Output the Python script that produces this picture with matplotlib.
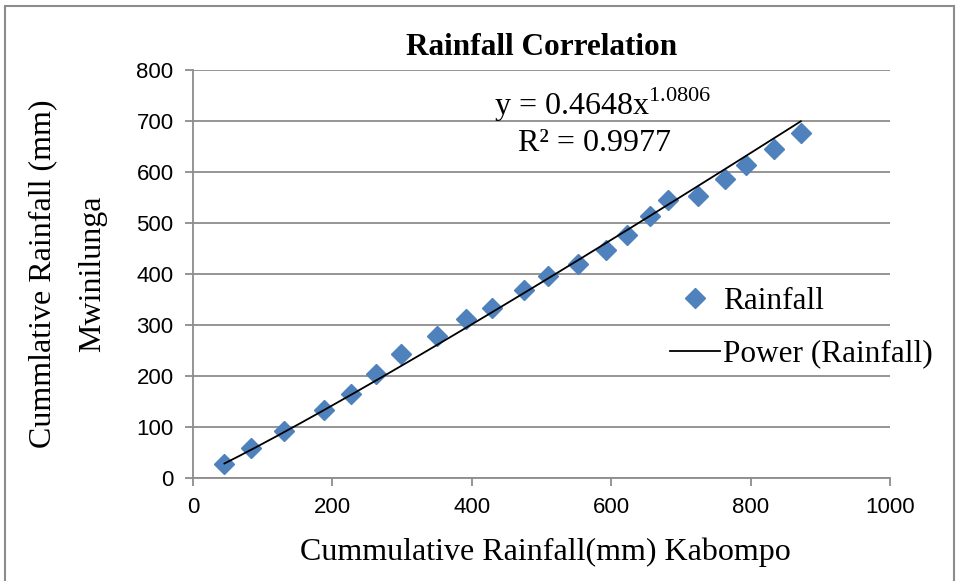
import numpy as np
import matplotlib.pyplot as plt
from matplotlib.patches import Rectangle

# Cumulative rainfall (mm)
kabompo = [45, 83, 130, 188, 226, 263, 298, 350, 391, 429, 475, 509,
           552, 593, 622, 655, 682, 724, 763, 794, 834, 872]
mwinilunga = [28, 59, 92, 133, 165, 204, 243, 279, 312, 333, 369, 396,
              419, 447, 476, 514, 546, 553, 586, 614, 645, 676]

coef = 0.4648
power = 1.0806

plt.rcParams['mathtext.fontset'] = 'custom'
plt.rcParams['mathtext.rm'] = 'Liberation Serif'
serif = 'Liberation Serif'
tickfont = ['Liberation Sans Narrow', 'Liberation Sans']

fig = plt.figure(figsize=(9.59, 5.81), dpi=100)
ax = fig.add_axes([0.2013, 0.1773, 0.7268, 0.7022])

xs = np.linspace(min(kabompo), max(kabompo), 200)
ax.plot(kabompo, mwinilunga, 'D', color='#4F81BD', markersize=10,
        label='Rainfall', zorder=3)
ax.plot(xs, coef * xs ** power, color='black', linewidth=1.3,
        label='Power (Rainfall)', zorder=4)

ax.set_xlim(0, 1000)
ax.set_ylim(0, 800)
ax.set_xticks(range(0, 1001, 200))
ax.set_yticks(range(0, 801, 100))
ax.grid(axis='y', color='#8c8c8c', linewidth=1.3)
ax.set_axisbelow(True)
for s in ['top', 'right']:
    ax.spines[s].set_visible(False)
for s in ['left', 'bottom']:
    ax.spines[s].set_color('#8c8c8c')
    ax.spines[s].set_linewidth(1.3)
ax.tick_params(direction='out', length=6, width=1.3, color='#8c8c8c',
               labelsize=16, pad=8)
for lab in ax.get_xticklabels() + ax.get_yticklabels():
    lab.set_family(tickfont)

ax.set_title('Rainfall Correlation', family=serif, fontweight='bold',
             fontsize=22.5, pad=11)
ax.set_xlabel('Cummulative Rainfall(mm) Kabompo', family=serif,
              fontsize=23)
ax.xaxis.set_label_coords(0.505, -0.181)
ax.set_ylabel('Cummlative Rainfall (mm)\nMwinilunga', family=serif,
              fontsize=23, linespacing=1.95)
ax.yaxis.set_label_coords(-0.18, 0.5)
ax.yaxis.label.set_va('center')
ax.xaxis.label.set_va('center')

ax.text(0.587, 0.914, r'y = 0.4648x$^{1.0806}$', transform=ax.transAxes,
        family=serif, fontsize=23, ha='center', va='center')
ax.text(0.576, 0.821, 'R² = 0.9977', transform=ax.transAxes,
        family=serif, fontsize=23, ha='center', va='center')

ax.legend(loc='center left', bbox_to_anchor=(670 / 959, 1 - 328 / 581),
          bbox_transform=fig.transFigure, frameon=False,
          prop={'family': serif, 'size': 22.5}, handlelength=1.6,
          handletextpad=0.1, labelspacing=0.75, borderpad=0,
          borderaxespad=0)

fig.patches.append(Rectangle((5 / 959, -0.01), 949 / 959, 1 - 6 / 581 + 0.01,
                             transform=fig.transFigure, fill=False,
                             edgecolor='#8c8c8c', linewidth=1.5))

fig.savefig('out.png', dpi=100)
